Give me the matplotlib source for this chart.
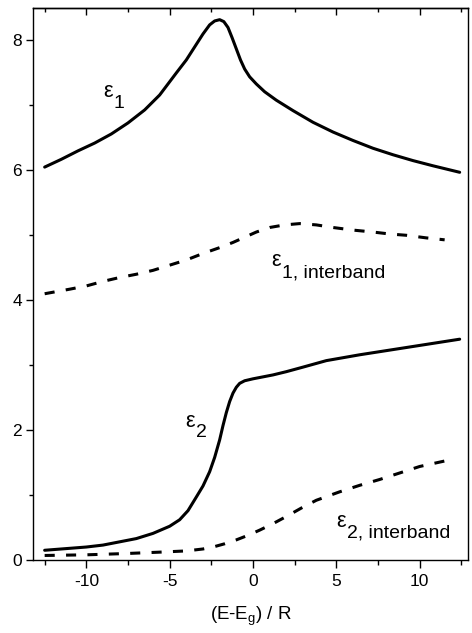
import matplotlib
matplotlib.use("Agg")
import matplotlib.pyplot as plt
from matplotlib.ticker import MultipleLocator

plt.rcParams['font.family'] = ['Liberation Sans', 'DejaVu Sans']
plt.rcParams['mathtext.fontset'] = 'custom'
plt.rcParams['mathtext.rm'] = 'Liberation Sans'
plt.rcParams['mathtext.it'] = 'Liberation Sans'

# eps1 (solid)
e1_x = [-12.5, -11.5, -10.5, -9.5, -8.5, -7.5, -6.5, -5.6, -4.6, -4.0, -3.5, -3.0,
        -2.6, -2.3, -2.0, -1.75, -1.5, -1.25, -1.0, -0.75, -0.5, -0.2, 0.2, 0.7,
        1.4, 2.4, 3.6, 4.8, 6.0, 7.2, 8.4, 9.6, 10.8, 12.4]
e1_y = [6.05, 6.17, 6.30, 6.42, 6.56, 6.73, 6.93, 7.16, 7.50, 7.70, 7.90, 8.10,
        8.24, 8.30, 8.32, 8.29, 8.20, 8.04, 7.87, 7.70, 7.56, 7.44, 7.33, 7.21,
        7.08, 6.92, 6.74, 6.59, 6.46, 6.34, 6.24, 6.15, 6.07, 5.97]

# eps1 interband (dashed)
e1i_x = [-12.5, -11.0, -10.0, -9.0, -8.0, -7.0, -6.0, -5.0, -4.0, -3.0, -2.0, -1.2,
         -0.5, 0.2, 1.0, 1.9, 2.8, 3.8, 4.8, 6.0, 7.2, 8.2, 9.2, 10.4, 11.5]
e1i_y = [4.10, 4.17, 4.22, 4.29, 4.35, 4.40, 4.46, 4.54, 4.62, 4.72, 4.81, 4.89,
         4.97, 5.05, 5.12, 5.16, 5.18, 5.16, 5.12, 5.08, 5.05, 5.02, 5.00, 4.96, 4.93]

# eps2 (solid)
e2_x = [-12.5, -11.0, -10.0, -9.0, -8.0, -7.0, -6.0, -5.0, -4.4, -3.9, -3.4, -3.0,
        -2.6, -2.3, -2.0, -1.8, -1.6, -1.4, -1.2, -1.0, -0.8, -0.5, 0.0, 0.4,
        1.2, 2.0, 3.0, 4.4, 6.4, 8.4, 10.4, 12.4]
e2_y = [0.15, 0.18, 0.20, 0.23, 0.28, 0.33, 0.41, 0.52, 0.62, 0.76, 0.97, 1.14,
        1.36, 1.58, 1.85, 2.07, 2.27, 2.44, 2.57, 2.66, 2.72, 2.76, 2.79, 2.81,
        2.85, 2.90, 2.97, 3.07, 3.16, 3.24, 3.32, 3.40]

# eps2 interband (dashed)
e2i_x = [-12.5, -10.0, -7.6, -5.7, -4.0, -3.0, -2.4, -1.7, -1.0, -0.3, 0.4, 1.2,
         2.0, 2.9, 3.8, 5.2, 6.4, 7.6, 8.8, 10.0, 11.6]
e2i_y = [0.07, 0.08, 0.10, 0.12, 0.14, 0.17, 0.20, 0.25, 0.31, 0.38, 0.46, 0.56,
         0.67, 0.80, 0.92, 1.05, 1.15, 1.24, 1.34, 1.44, 1.53]

x_major = [-10, -5, 0, 5, 10]
x_labels = ['-10', '-5', '0', '5', '10']
y_major = [0, 2, 4, 6, 8]
y_labels = ['0', '2', '4', '6', '8']

curve_labels = ['1', '1, interband', '2', '2, interband']

fig = plt.figure(figsize=(4.72, 6.33), dpi=100)
ax = fig.add_axes([0.0699, 0.1153, 0.9216, 0.8721])

lw = 2.2
dash = (3.3, 3.7)
ax.plot(e1_x, e1_y, color='black', lw=lw, solid_capstyle='round', solid_joinstyle='round')
ax.plot(e1i_x, e1i_y, color='black', lw=lw, linestyle=(0, dash))
ax.plot(e2_x, e2_y, color='black', lw=lw, solid_capstyle='round', solid_joinstyle='round')
ax.plot(e2i_x, e2i_y, color='black', lw=lw, linestyle=(0, dash))

ax.set_xlim(-13.2, 12.9)
ax.set_ylim(0, 8.5)

ax.set_xticks(x_major)
ax.set_xticklabels(x_labels)
ax.set_yticks(y_major)
ax.set_yticklabels(y_labels)
ax.xaxis.set_minor_locator(MultipleLocator(2.5))
ax.yaxis.set_minor_locator(MultipleLocator(1))

ax.tick_params(axis='x', which='major', direction='out', length=5.8, width=1.0,
               labelsize=12.5, pad=4, top=False)
ax.tick_params(axis='x', which='minor', direction='out', length=3.6, width=1.0, top=False)
ax.tick_params(axis='y', which='major', direction='out', length=4.8, width=1.0,
               labelsize=12.5, pad=3, right=False)
ax.tick_params(axis='y', which='minor', direction='out', length=3.0, width=1.0, right=False)

sec = ax.secondary_xaxis('top')
sec.set_xticks(x_major)
sec.xaxis.set_minor_locator(MultipleLocator(2.5))
sec.tick_params(axis='x', which='major', direction='in', length=5.0, width=1.0, labeltop=False)
sec.tick_params(axis='x', which='minor', direction='in', length=3.0, width=1.0)
sec.spines['top'].set_linewidth(1.0)

for s in ax.spines.values():
    s.set_linewidth(1.0)

ax.set_xlabel(r'(E-E$_\mathregular{g}$) / R', fontsize=13.5, labelpad=12)


def eps_label(x, y, sub, dx=8.0, dy=-7.9):
    ax.text(x, y, 'ε', fontsize=15.5, ha='left', va='baseline')
    ax.annotate(sub, xy=(x, y), xytext=(dx, dy), textcoords='offset points',
                fontsize=14, ha='left', va='baseline')


eps_label(-9.0, 7.13, curve_labels[0], dx=7.6, dy=-8.1)
eps_label(1.08, 4.52, curve_labels[1])
eps_label(-4.07, 2.05, curve_labels[2], dx=8.0, dy=-7.4)
eps_label(4.97, 0.51, curve_labels[3], dx=8.4, dy=-7.4)

fig.savefig('out.png', dpi=100)
